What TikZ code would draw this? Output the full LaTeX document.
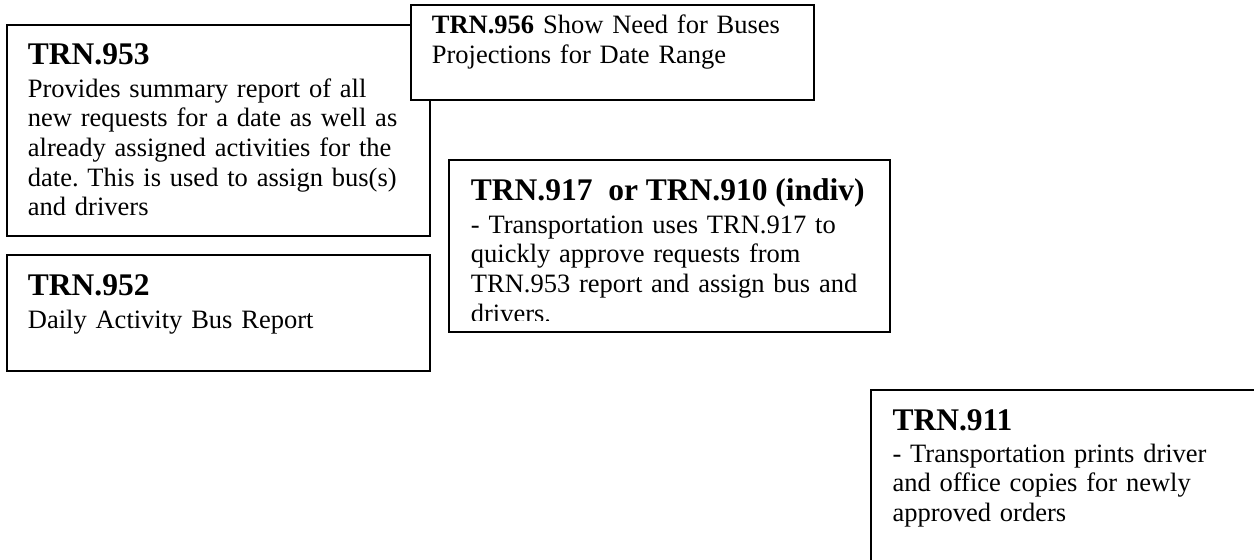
\documentclass[tikz,border=0pt]{standalone}
\usepackage{fontspec}
\setmainfont{Liberation Serif}
\frenchspacing
\tikzset{
  box/.style={draw=black, line width=2pt, fill=white, inner sep=0pt, outer sep=0pt, anchor=north west},
  head/.style={anchor=base west, inner sep=0pt, font=\fontsize{31.5}{36}\selectfont\bfseries},
  body/.style={anchor=base west, inner sep=0pt, text width=400pt, align=left, font=\fontsize{26.5}{29.7}\selectfont\frenchspacing},
}
\begin{document}
\begin{tikzpicture}[x=1pt,y=-1pt]
\useasboundingbox (0,0) rectangle (1254,560);
\clip (0,0) rectangle (1254,560);
\fill[white] (0,0) rectangle (1254,560);

% TRN.953
\node[box, minimum width=423pt, minimum height=211pt] (b953) at (7,25) {};
\node[head] (h953) at (27.7,64.3) {TRN.953};
\node[body] (t953) at (27.7,97) {Provides summary report of all\\new requests for a date as well as\\already assigned activities for the\\date. This is used to assign bus(s)\\and drivers};

% TRN.956 (drawn over TRN.953)
\node[box, minimum width=403pt, minimum height=95pt] (b956) at (411,5) {};
\node[body] (t956) at (431.7,33.3) {\textbf{TRN.956} Show Need for Buses\\Projections for Date Range};

% TRN.952
\node[box, minimum width=423pt, minimum height=116pt] (b952) at (7,255) {};
\node[head] (h952) at (27.7,295.7) {TRN.952};
\node[body] (t952) at (27.7,328) {Daily Activity Bus Report};

% TRN.917
\node[box, minimum width=441pt, minimum height=172pt] (b917) at (449,160) {};
\node[head] (h917) at (470.7,200.7) {TRN.917\ \ or TRN.910 (indiv)};
\begin{scope}
\clip (449,160) rectangle (890,320.5);
\node[body] (t917) at (470.7,233) {- Transportation uses TRN.917 to\\quickly approve requests from\\TRN.953 report and assign bus and\\drivers.};
\end{scope}

% TRN.911
\node[box, minimum width=420pt, minimum height=200pt] (b911) at (871,390) {};
\node[head] (h911) at (892.3,430) {TRN.911};
\node[body] (t911) at (892.3,462) {- Transportation prints driver\\and office copies for newly\\approved orders};
\end{tikzpicture}
\end{document}
